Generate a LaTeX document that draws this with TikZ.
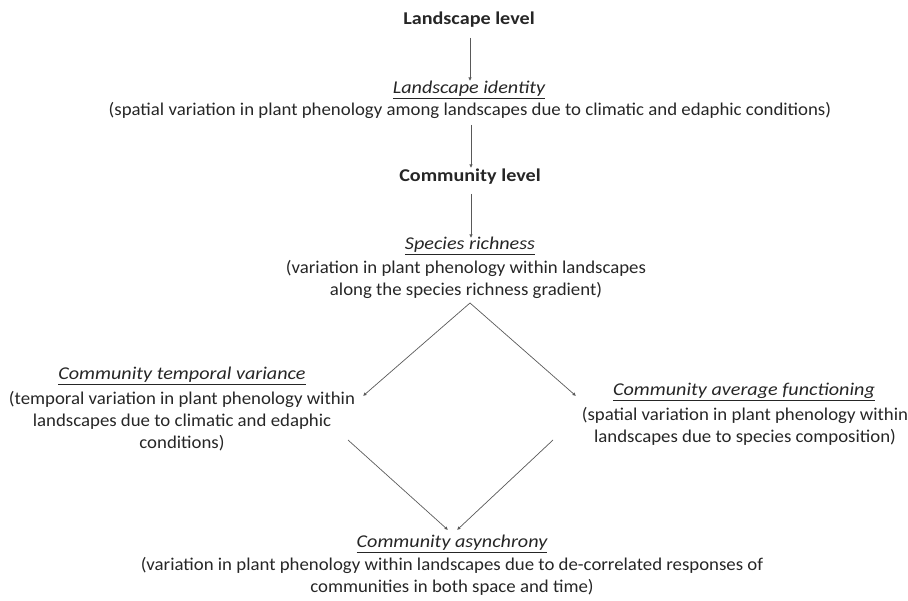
\documentclass[tikz,border=0pt]{standalone}
\usepackage{fontspec}
\setmainfont{Carlito}[FakeStretch=1.045]
\newfontfamily\ttlf{Carlito}[FakeStretch=1.12]
\usetikzlibrary{arrows.meta}
\begin{document}
\begin{tikzpicture}[x=1pt,y=-1pt,
  txt/.style={inner sep=0pt,align=center,text=black!85,font=\fontsize{18}{22}\selectfont},
  hd/.style={txt,font=\fontsize{18}{22}\selectfont\ttlf\bfseries},
  ttl/.style={txt,font=\fontsize{18}{22}\selectfont\ttlf\itshape},
  arr/.style={draw=black!65,line width=0.7pt,-{Latex[length=3.5pt,width=3.5pt]}}]
\useasboundingbox (0,0) rectangle (908,601);
\node[hd] (LL) at (469,20) {Landscape level};
\node[ttl] (LIt) at (469,90) {\underline{Landscape identity}};
\node[txt] (LId) at (470,110) {(spatial variation in plant phenology among landscapes due to climatic and edaphic conditions)};
\node[hd] (CL) at (470,177) {Community level};
\node[ttl] (SRt) at (470,246) {\underline{Species richness}};
\node[txt] (SRd) at (466,279) {(variation in plant phenology within landscapes\\along the species richness gradient)};
\node[ttl] (CTt) at (182,376) {\underline{Community temporal variance}};
\node[txt] (CTd) at (182,421) {(temporal variation in plant phenology within\\landscapes due to climatic and edaphic\\conditions)};
\node[ttl] (CAt) at (744,392) {\underline{Community average functioning}};
\node[txt] (CAd) at (745,426) {(spatial variation in plant phenology within\\landscapes due to species composition)};
\node[ttl] (CYt) at (452,544) {\underline{Community asynchrony}};
\node[txt] (CYd) at (452,576) {(variation in plant phenology within landscapes due to de-correlated responses of\\communities in both space and time)};
\coordinate (a1s) at (470,38); \coordinate (a1e) at (470,81);
\coordinate (a2s) at (471,125); \coordinate (a2e) at (471,168);
\coordinate (a3s) at (471,194); \coordinate (a3e) at (471,238);
\coordinate (apex) at (470,303);
\coordinate (lt) at (363,396); \coordinate (rt) at (576,396);
\coordinate (ls) at (348,440); \coordinate (rs) at (553,440);
\coordinate (le) at (448,530); \coordinate (re) at (457,530);
\draw[arr] (a1s) -- (a1e);
\draw[arr] (a2s) -- (a2e);
\draw[arr] (a3s) -- (a3e);
\draw[arr] (apex) -- (lt);
\draw[arr] (apex) -- (rt);
\draw[arr] (ls) -- (le);
\draw[arr] (rs) -- (re);
\end{tikzpicture}
\end{document}
